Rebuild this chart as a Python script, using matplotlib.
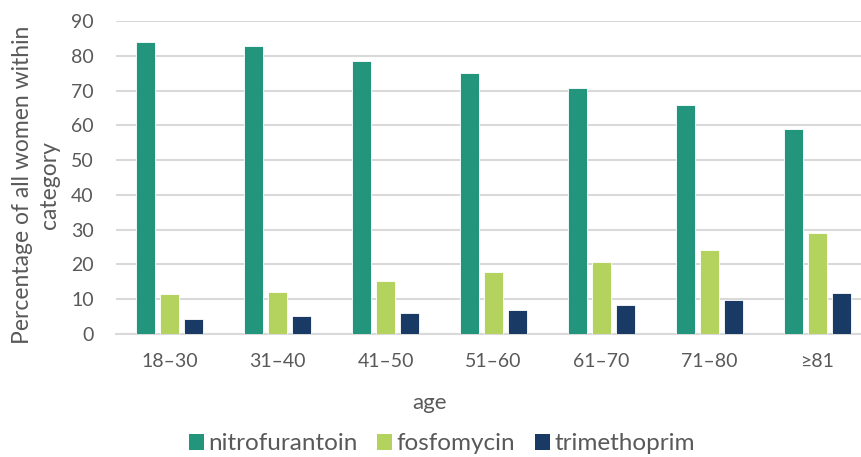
import matplotlib
matplotlib.use("Agg")
import matplotlib.pyplot as plt
import numpy as np
from matplotlib.patches import Patch

categories = ["18–30", "31–40", "41–50", "51–60", "61–70", "71–80", "≥81"]
series_names = ["nitrofurantoin", "fosfomycin", "trimethoprim"]
nitrofurantoin = [83.9, 82.7, 78.4, 75.0, 70.7, 65.8, 58.9]
fosfomycin = [11.4, 12.0, 15.1, 17.7, 20.6, 24.1, 29.1]
trimethoprim = [4.2, 5.1, 6.1, 6.9, 8.3, 9.8, 11.8]
colors = ["#23957D", "#B3D35E", "#1A3A66"]
yticks = [0, 10, 20, 30, 40, 50, 60, 70, 80, 90]

plt.rcParams['font.family'] = ['Lato', 'DejaVu Sans']
txt = "#595959"

W, H = 862, 457
fig = plt.figure(figsize=(W/100, H/100), dpi=100)
left, right = 116, 871
bottom, top = 334, 21
ax = fig.add_axes([left/W, 1-bottom/H, (right-left)/W, (bottom-top)/H])

x = np.arange(len(categories))
cw = (right-left)/len(categories)
bw = 19/cw
gap = 24/cw
for i, (vals, c, n) in enumerate(zip([nitrofurantoin, fosfomycin, trimethoprim], colors, series_names)):
    ax.bar(x + (i-1)*gap, vals, width=bw, color=c, edgecolor="white", linewidth=0.6, label=n, zorder=3)

ax.set_xlim(-0.5, len(categories)-0.5)
ax.set_ylim(0, 90)
ax.set_yticks(yticks)
ax.set_xticks(x)
ax.set_xticklabels(categories)
ax.grid(axis="y", color="#D9D9D9", linewidth=1.5, zorder=0)
for s in ["top", "right", "left"]:
    ax.spines[s].set_visible(False)
ax.spines["bottom"].set_color("#D9D9D9")
ax.spines["bottom"].set_linewidth(1.5)
ax.tick_params(axis="both", length=0, labelsize=14, labelcolor=txt)
ax.tick_params(axis="y", pad=16)
ax.tick_params(axis="x", pad=14)

fig.text(430/W, 1-403/H, "age", ha="center", va="center", fontsize=16, color=txt)
fig.text(36/W, 1-185/H, "Percentage of all women within\ncategory", rotation=90,
         ha="center", va="center", fontsize=16.5, color=txt, multialignment="center", linespacing=1.3)

handles = [Patch(facecolor=c, edgecolor="none") for c in colors]
fig.legend(handles, series_names, loc="center", bbox_to_anchor=(442/W, 1-444/H), ncol=3,
           frameon=False, fontsize=17.5, labelcolor=txt, handlelength=0.6, handleheight=0.6,
           handletextpad=0.2, columnspacing=0.8)

fig.savefig("out.png", dpi=100)
